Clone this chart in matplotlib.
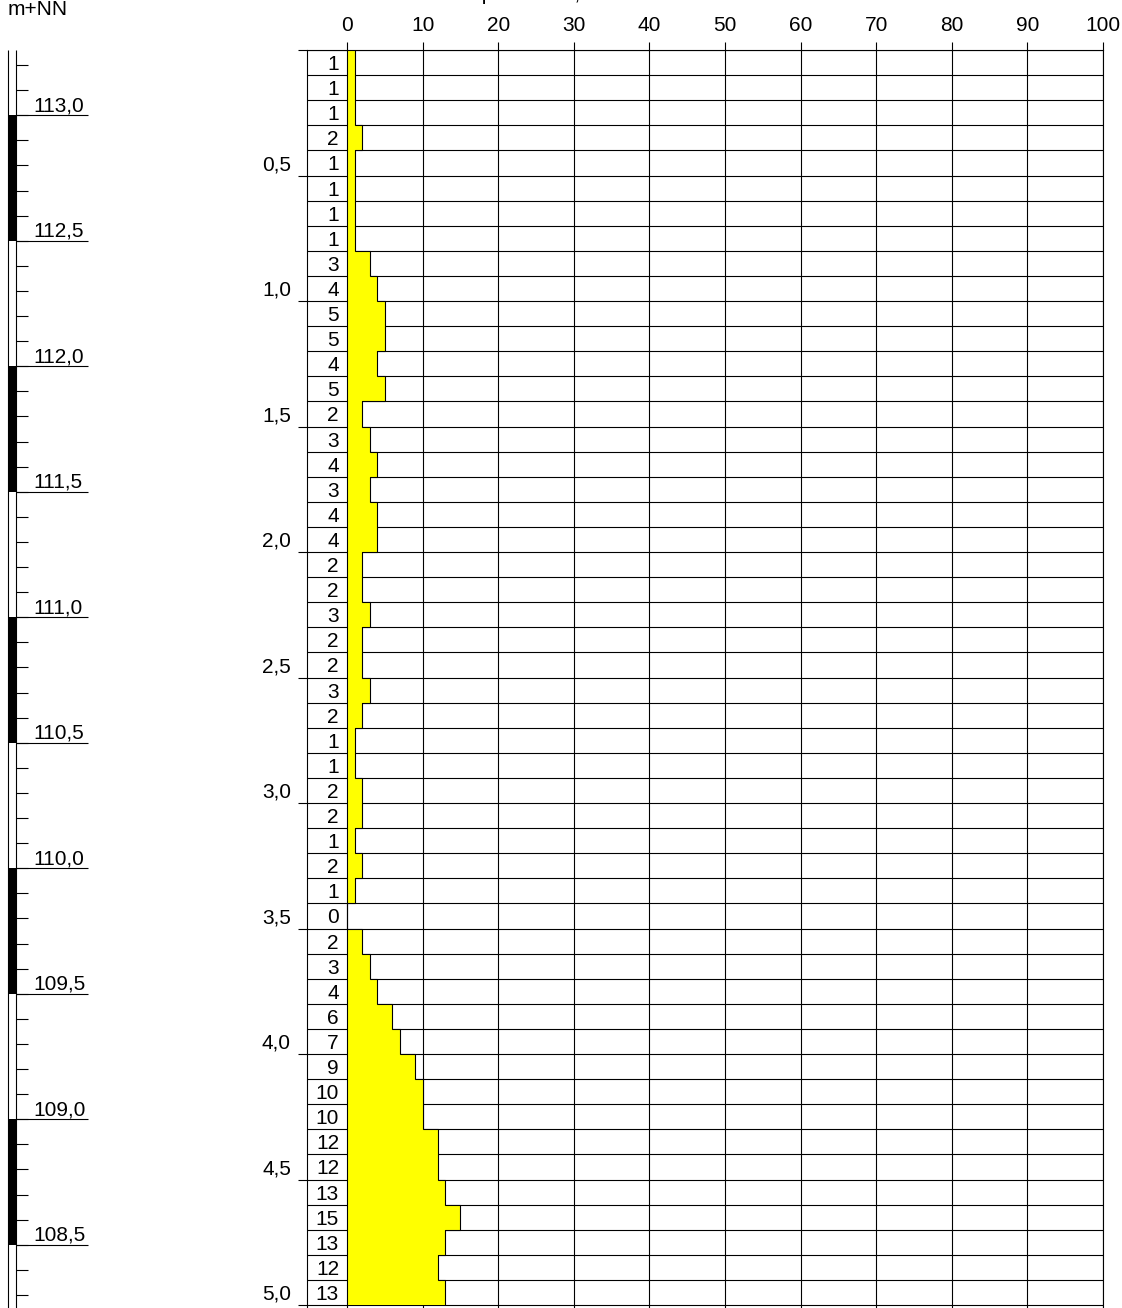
import numpy as np
import matplotlib.pyplot as plt
from matplotlib import transforms

plt.rcParams['font.family'] = ['Liberation Sans', 'DejaVu Sans']
plt.rcParams['font.size'] = 15

# blows per 10 cm, 0.0 m ... 5.0 m below ground
blows = [1, 1, 1, 2, 1, 1, 1, 1, 3, 4,
         5, 5, 4, 5, 2, 3, 4, 3, 4, 4,
         2, 2, 3, 2, 2, 3, 2, 1, 1, 2,
         2, 1, 2, 1, 0, 2, 3, 4, 6, 7,
         9, 10, 10, 12, 12, 13, 15, 13, 12, 13]
step = 0.1
edges = np.arange(len(blows) + 1) * step
ground = 113.26          # m+NN at top of sounding
x_ticks = np.arange(0, 101, 10)
depth_marks = np.arange(0.5, 5.01, 0.5)
elev_ticks = np.round(np.arange(108.3, 113.25, 0.1), 1)
elev_major = np.arange(108.5, 113.01, 0.5)
elev_black = np.arange(109.0, 113.01, 1.0)   # upper edges of black scale blocks

W, H = 1122, 1308
px_m = 251.0                     # pixels per metre depth
px_n = 7.56                      # pixels per blow
y_top = 50
depth_max = (H - y_top) / px_m
x_left = -40 / px_n

fig = plt.figure(figsize=(W / 100, H / 100), dpi=100)
lw = 0.8

# --- blow count diagram ---
ax = fig.add_axes([307 / W, 0, (1103 - 307) / W, (H - y_top) / H])
ax.set_xlim(x_left, 100)
ax.set_ylim(depth_max, 0)

ax.hlines(edges, x_left, 100, color='k', lw=lw, zorder=1)
ax.vlines(x_ticks[1:], 0, depth_max, color='k', lw=lw, zorder=1)
ax.stairs(blows, edges, orientation='horizontal', baseline=0, fill=True,
          color='#ffff00', zorder=2)
ax.stairs(blows, edges, orientation='horizontal', baseline=None,
          color='k', lw=lw, zorder=3)
ax.axvline(0, color='k', lw=lw, zorder=4)

for i, b in enumerate(blows):
    ax.text(-8 / px_n, edges[i] + step / 2, str(b), ha='right',
            va='center_baseline', zorder=5)

for d in depth_marks:
    ax.text(x_left - 16 / px_n, d - step / 2, f"{d:.1f}".replace('.', ','),
            ha='right', va='center_baseline')

ax.xaxis.tick_top()
ax.set_xticks(x_ticks)
ax.set_yticks(np.concatenate([[0], depth_marks]))
ax.set_yticklabels([])
ax.tick_params(axis='x', length=6, width=lw, pad=5, labelsize=15)
ax.tick_params(axis='y', length=6.5, width=lw)
ax.spines['bottom'].set_visible(False)
for s in ['top', 'left', 'right']:
    ax.spines[s].set_linewidth(lw)

# --- elevation scale ---
ax_el = fig.add_axes([0, 0, 100 / W, (H - y_top) / H])
ax_el.set_xlim(0, 100)
ax_el.set_ylim(ground - depth_max, ground)
ax_el.axis('off')

ax_el.bar(np.full(len(elev_black), 12), 0.5, bottom=elev_black - 0.5,
          width=8, color='k', lw=0)
ax_el.vlines([8, 16], ground - depth_max, ground, color='k', lw=lw)
ax_el.hlines(elev_ticks, 16, 28, color='k', lw=lw)
ax_el.hlines(elev_major, 16, 88, color='k', lw=lw)
lab_tr = transforms.offset_copy(ax_el.transData, fig=fig, y=4, units='dots')
for e in elev_major:
    ax_el.text(33, e, f"{e:.1f}".replace('.', ','), ha='left',
               va='baseline', transform=lab_tr)

fig.text(8 / W, 1 - 15 / H, 'm+NN', va='baseline')
fig.text(412 / W, 1.0, 'Anzahl pro 10 cm, N10', va='baseline')

fig.savefig('out.png', dpi=100)
